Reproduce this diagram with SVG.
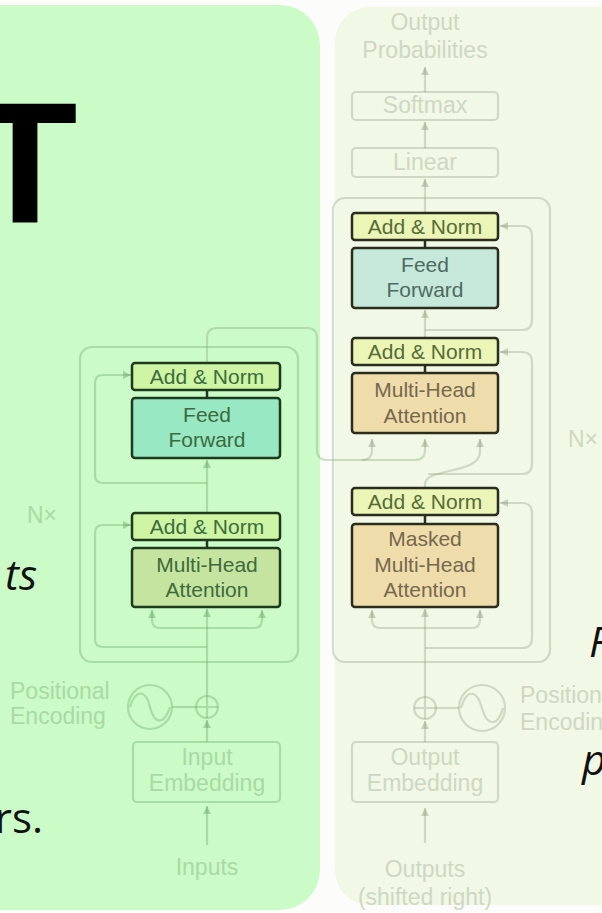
<svg xmlns="http://www.w3.org/2000/svg" width="602" height="913" viewBox="0 0 602 913">
<defs>
<style>
.le{fill:none;stroke:#5f9a5c;stroke-opacity:0.32;stroke-width:2.2}
.ld{fill:none;stroke:#8a9478;stroke-opacity:0.32;stroke-width:2.2}
.lx{fill:none;stroke:#7c9a70;stroke-opacity:0.32;stroke-width:2.2}
.t{font-family:"Liberation Sans",Arial,sans-serif;font-size:21px;text-anchor:middle}
.te{fill:#3d6b3c}
.tdA{fill:#566b38}
.tdM{fill:#75684e}
.tdF{fill:#4f6a5e}
.lab{font-family:"Liberation Sans",Arial,sans-serif;font-size:23px}
.labE{fill:#a9daa4}
.labD{fill:#cfd7c3}
.be{stroke:#1d3a1e;stroke-width:2.5}
.bd{stroke:#2a2d1e;stroke-width:2.5}
.big{font-family:"Open Sans","Noto Sans",sans-serif;font-size:42px;fill:#111}
</style>
<marker id="ae" markerUnits="userSpaceOnUse" markerWidth="9" markerHeight="9" refX="8" refY="4.5" orient="auto"><path d="M0,0.5 L8,4.5 L0,8.5 Z" fill="#5f9a5c" fill-opacity="0.4"/></marker>
<marker id="ad" markerUnits="userSpaceOnUse" markerWidth="9" markerHeight="9" refX="8" refY="4.5" orient="auto"><path d="M0,0.5 L8,4.5 L0,8.5 Z" fill="#8a9478" fill-opacity="0.4"/></marker>
</defs>
<rect x="0" y="0" width="602" height="913" fill="#fcfdfa"/>
<rect id="panel-left" x="-60" y="5" width="380" height="905" rx="40" fill="#cbfbc7"/>
<rect id="panel-right" x="335" y="7" width="330" height="898" rx="35" fill="#f1f8e5"/>

<g id="slide-text">
<text x="25" y="223" text-anchor="middle" font-family="Liberation Sans,Arial,sans-serif" font-weight="bold" font-size="172" fill="#000">T</text>
<text class="big" x="37" y="590" text-anchor="end" font-style="italic">ts</text>
<text class="big" x="43" y="833" text-anchor="end">rs.</text>
<text class="big" x="589" y="657" font-style="italic">R</text>
<text class="big" x="582" y="775" font-style="italic">p</text>
</g>

<g id="connectors">
<rect class="le" x="80" y="347" width="218" height="315" rx="12"/>
<path class="le" d="M207,845 V806" marker-end="url(#ae)"/>
<path class="le" d="M207,742 V720" marker-end="url(#ae)"/>
<path class="le" d="M172,707 H196"/>
<path class="le" d="M207,696 V609" marker-end="url(#ae)"/>
<path class="le" d="M207,628 H160 Q152,628 152,620 V610" marker-end="url(#ae)"/>
<path class="le" d="M207,628 H254 Q262,628 262,620 V610" marker-end="url(#ae)"/>
<path class="le" d="M207,647 H103 Q95,647 95,639 V533 Q95,525 103,525 H131" marker-end="url(#ae)"/>
<path class="le" d="M207,513 V460" marker-end="url(#ae)"/>
<path class="le" d="M207,483 H103 Q95,483 95,475 V383 Q95,375 103,375 H131" marker-end="url(#ae)"/>
<path class="lx" d="M207,363 V338 Q207,328 217,328 H307 Q317,328 317,338 V450 Q317,460 327,460 H415 Q425,460 425,450 V439" marker-end="url(#ad)"/>
<path class="ld" d="M362,460 Q372,460 372,450 V439" marker-end="url(#ad)"/>
<rect class="ld" x="333" y="198" width="217" height="464" rx="12"/>
<path class="ld" d="M425,843 V808" marker-end="url(#ad)"/>
<path class="ld" d="M425,742 V721" marker-end="url(#ad)"/>
<path class="ld" d="M436,708 H459"/>
<path class="ld" d="M425,697 V609" marker-end="url(#ad)"/>
<path class="ld" d="M425,628 H380 Q372,628 372,620 V610" marker-end="url(#ad)"/>
<path class="ld" d="M425,628 H472 Q480,628 480,620 V610" marker-end="url(#ad)"/>
<path class="ld" d="M425,648 H522 Q532,648 532,638 V513 Q532,503 522,503 H500" marker-end="url(#ad)"/>
<path class="ld" d="M425,488 V484 C425,468 480,474 480,452 V439" marker-end="url(#ad)"/>
<path class="ld" d="M428,474 H522 Q532,474 532,464 V362 Q532,352 522,352 H500" marker-end="url(#ad)"/>
<path class="ld" d="M425,338 V310" marker-end="url(#ad)"/>
<path class="ld" d="M425,330 H522 Q532,330 532,320 V236 Q532,226 522,226 H500" marker-end="url(#ad)"/>
<path class="ld" d="M425,213 V179" marker-end="url(#ad)"/>
<path class="ld" d="M425,148 V122" marker-end="url(#ad)"/>
<path class="ld" d="M425,92 V67" marker-end="url(#ad)"/>
<path class="be" d="M207,390 V398 M207,540 V548"/>
<path class="bd" d="M425,240 V248 M425,365 V373 M425,515 V524"/>
</g>

<g id="enc-pos-enc">
<circle class="le" cx="150" cy="707" r="22"/>
<path class="le" d="M130,707 C136,688 146,690 150,707 C154,724 164,726 170,707"/>
<text class="lab labE" x="10" y="699">Positional</text>
<text class="lab labE" x="10" y="724">Encoding</text>
</g>
<g id="enc-plus">
<circle class="le" cx="207" cy="707" r="11"/>
<path class="le" d="M196,707 H218 M207,696 V718"/>
</g>
<g id="enc-input-embedding">
<rect class="le" x="133" y="742" width="147" height="60" rx="4" fill="#5f9a5c" fill-opacity="0.06"/>
<text class="lab labE" x="207" y="765" text-anchor="middle" font-size="20">Input</text>
<text class="lab labE" x="207" y="791" text-anchor="middle" font-size="20">Embedding</text>
</g>
<g id="enc-inputs"><text class="lab labE" x="207" y="875" text-anchor="middle">Inputs</text></g>
<g id="enc-nx"><text class="lab labE" x="27" y="523" font-size="19">N×</text></g>

<g id="enc-mha">
<rect class="be" x="132" y="548" width="148" height="59" rx="3" fill="#c5e49f"/>
<text class="t te" x="207" y="572">Multi-Head</text>
<text class="t te" x="207" y="597">Attention</text>
</g>
<g id="enc-addnorm1">
<rect class="be" x="132" y="513" width="148" height="27" rx="3" fill="#cdf5a4"/>
<text class="t te" x="207" y="534">Add &amp; Norm</text>
</g>
<g id="enc-ff">
<rect class="be" x="132" y="398" width="148" height="60" rx="3" fill="#97e8c3"/>
<text class="t te" x="207" y="422">Feed</text>
<text class="t te" x="207" y="447">Forward</text>
</g>
<g id="enc-addnorm2">
<rect class="be" x="132" y="363" width="148" height="27" rx="3" fill="#cdf5a4"/>
<text class="t te" x="207" y="384">Add &amp; Norm</text>
</g>

<g id="dec-output-probs">
<text class="lab labD" x="425" y="30" text-anchor="middle">Output</text>
<text class="lab labD" x="425" y="58" text-anchor="middle">Probabilities</text>
</g>
<g id="dec-softmax">
<rect class="ld" x="352" y="92" width="146" height="28" rx="4" fill="#8a9478" fill-opacity="0.07"/>
<text class="lab labD" x="425" y="113" text-anchor="middle" font-size="21">Softmax</text>
</g>
<g id="dec-linear">
<rect class="ld" x="352" y="148" width="146" height="29" rx="4" fill="#8a9478" fill-opacity="0.07"/>
<text class="lab labD" x="425" y="170" text-anchor="middle" font-size="21">Linear</text>
</g>
<g id="dec-addnorm3">
<rect class="bd" x="352" y="213" width="146" height="27" rx="3" fill="#ebf5b6"/>
<text class="t tdA" x="425" y="234">Add &amp; Norm</text>
</g>
<g id="dec-ff">
<rect class="bd" x="352" y="248" width="146" height="60" rx="3" fill="#c5e8da"/>
<text class="t tdF" x="425" y="272">Feed</text>
<text class="t tdF" x="425" y="297">Forward</text>
</g>
<g id="dec-addnorm2">
<rect class="bd" x="352" y="338" width="146" height="27" rx="3" fill="#ebf5b6"/>
<text class="t tdA" x="425" y="359">Add &amp; Norm</text>
</g>
<g id="dec-mha">
<rect class="bd" x="352" y="373" width="146" height="60" rx="3" fill="#efdcab"/>
<text class="t tdM" x="425" y="397">Multi-Head</text>
<text class="t tdM" x="425" y="423">Attention</text>
</g>
<g id="dec-addnorm1">
<rect class="bd" x="352" y="488" width="146" height="27" rx="3" fill="#ebf5b6"/>
<text class="t tdA" x="425" y="509">Add &amp; Norm</text>
</g>
<g id="dec-masked-mha">
<rect class="bd" x="352" y="524" width="146" height="83" rx="3" fill="#efdcab"/>
<text class="t tdM" x="425" y="546">Masked</text>
<text class="t tdM" x="425" y="572">Multi-Head</text>
<text class="t tdM" x="425" y="597">Attention</text>
</g>
<g id="dec-nx"><text class="lab labD" x="568" y="447" font-size="19">N×</text></g>
<g id="dec-plus">
<circle class="ld" cx="425" cy="708" r="11"/>
<path class="ld" d="M414,708 H436 M425,697 V719"/>
</g>
<g id="dec-pos-enc">
<circle class="ld" cx="482" cy="708" r="23"/>
<path class="ld" d="M461,708 C467,688 477,690 482,708 C487,726 497,728 503,708"/>
<text class="lab labD" x="520" y="703">Positional</text>
<text class="lab labD" x="520" y="730">Encoding</text>
</g>
<g id="dec-output-embedding">
<rect class="ld" x="352" y="742" width="146" height="60" rx="4" fill="#8a9478" fill-opacity="0.07"/>
<text class="lab labD" x="425" y="765" text-anchor="middle" font-size="20">Output</text>
<text class="lab labD" x="425" y="791" text-anchor="middle" font-size="20">Embedding</text>
</g>
<g id="dec-outputs">
<text class="lab labD" x="425" y="877" text-anchor="middle">Outputs</text>
<text class="lab labD" x="425" y="905" text-anchor="middle">(shifted right)</text>
</g>
</svg>
